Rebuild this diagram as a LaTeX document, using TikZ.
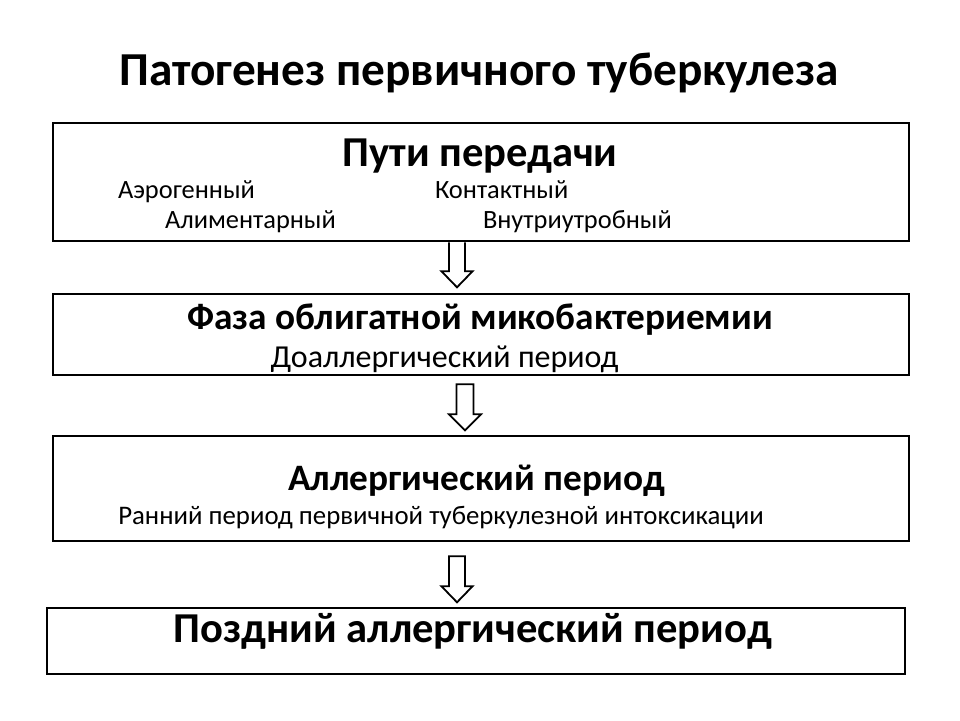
\documentclass[tikz,border=0pt]{standalone}
\usepackage{fontspec}
\setmainfont{Carlito}
\usetikzlibrary{calc}
\begin{document}
\begin{tikzpicture}[x=1pt,y=-1pt,
  box/.style={draw=black, line width=2.3pt, fill=white, rectangle, inner sep=0pt, anchor=north west},
  blockarrow/.style={draw=black, line width=1.8pt, fill=white, line join=miter},
  txt/.style={inner sep=0pt, outer sep=0pt},
  ttl/.style={txt, font=\fontsize{47.3}{56}\selectfont\bfseries},
  hda/.style={txt, font=\fontsize{42.6}{50}\selectfont\bfseries},
  hdb/.style={txt, font=\fontsize{37.3}{45}\selectfont\bfseries},
  hdc/.style={txt, font=\fontsize{42.6}{50}\selectfont\bfseries},
  sma/.style={txt, font=\fontsize{26.4}{31}\selectfont},
  smb/.style={txt, font=\fontsize{32}{38}\selectfont},
  smc/.style={txt, font=\fontsize{26.8}{32}\selectfont}]
\useasboundingbox[fill=white] (0,0) rectangle (960,720);

\node[ttl, anchor=base] (title) at (479,85) {Патогенез первичного туберкулеза};

% boxes
\node[box, minimum width=856pt, minimum height=118pt] (b1) at (52,122) {};
\node[box, minimum width=856pt, minimum height=81pt] (b2) at (52,293) {};
\node[box, minimum width=856pt, minimum height=105pt] (b3) at (52,435) {};
\node[box, minimum width=858pt, minimum height=66pt] (b4) at (46,607) {};

% box 1 texts
\node[hda, anchor=base] (h1) at (480,166) {Пути передачи};
\node[sma, anchor=base west] (t11) at (118,198) {Аэрогенный};
\node[sma, anchor=base west] (t12) at (435,198) {Контактный};
\node[sma, anchor=base west] (t13) at (165,228) {Алиментарный};
\node[sma, anchor=base west] (t14) at (483,228) {Внутриутробный};

% box 2 texts
\node[hdb, anchor=base] (h2) at (480,329) {Фаза облигатной микобактериемии};
\node[smb, anchor=base] (t21) at (444.5,367) {Доаллергический период};

% box 3 texts
\node[hdb, anchor=base] (h3) at (476.5,490) {Аллергический период};
\node[smc, anchor=base] (t31) at (441,524) {Ранний период первичной туберкулезной интоксикации};

% box 4 text
\node[hdc, anchor=base] (h4) at (473,642) {Поздний аллергический период};

% block arrows between boxes
\coordinate (a1) at (457,0);
\coordinate (a2) at (465,0);
\coordinate (a3) at (457,0);
\draw[blockarrow] ($(a1|-b1.south)+(-8,0)$) -- ++(0,29) -- ++(-7.5,0) -- ($(a1|-b1.south)+(0,45)$)
  -- ($(a1|-b1.south)+(15.5,29)$) -- ++(-7.5,0) -- ($(a1|-b1.south)+(8,0)$);
\draw[blockarrow] ($(a2|-b2.south)+(-8.5,8)$) -- ++(0,30) -- ++(-7.5,0) -- ($(a2|-b2.south)+(0,54)$)
  -- ($(a2|-b2.south)+(16,38)$) -- ++(-7.5,0) -- ($(a2|-b2.south)+(8.5,8)$) -- cycle;
\draw[blockarrow] ($(a3|-b3.south)+(-8,14)$) -- ++(0,30) -- ++(-7.5,0) -- ($(a3|-b3.south)+(0,60)$)
  -- ($(a3|-b3.south)+(15.5,44)$) -- ++(-7.5,0) -- ($(a3|-b3.south)+(8,14)$) -- cycle;
\end{tikzpicture}
\end{document}
